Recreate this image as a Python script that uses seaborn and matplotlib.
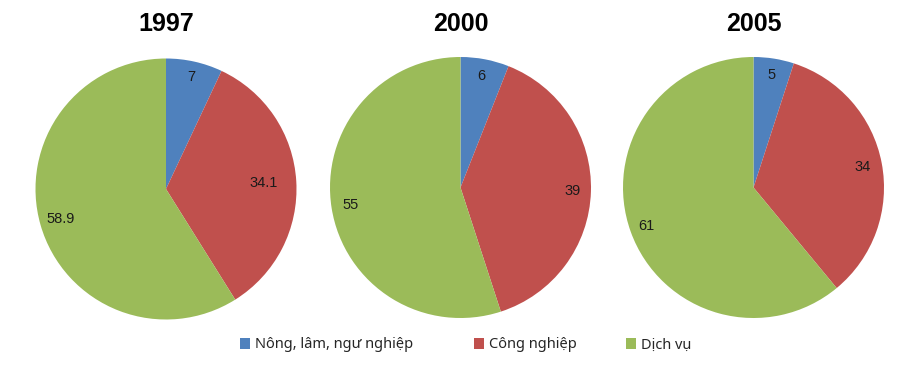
import matplotlib
matplotlib.use('Agg')
import matplotlib.pyplot as plt
from matplotlib.patches import Patch
import seaborn as sns

# Data
years = ['1997', '2000', '2005']
sectors = ['Nông, lâm, ngư nghiệp', 'Công nghiệp', 'Dịch vụ']
shares = {
    '1997': [7, 34.1, 58.9],
    '2000': [6, 39, 55],
    '2005': [5, 34, 61],
}
labels = {
    '1997': ['7', '34.1', '58.9'],
    '2000': ['6', '39', '55'],
    '2005': ['5', '34', '61'],
}

sns.set_theme(style='white')
plt.rcParams['font.family'] = ['Liberation Sans', 'DejaVu Sans']
colors = sns.color_palette(['#4F81BD', '#C0504D', '#9BBB59'])

W, H = 921, 381
fig = plt.figure(figsize=(W / 100, H / 100), dpi=100)

# pie centres in pixels, and how far out each label sits (fraction of radius)
centres = [(166, 189), (460.5, 187.5), (753.5, 187.5)]
label_dist = [[0.88, 0.75, 0.84], [0.87, 0.86, 0.85], [0.87, 0.85, 0.87]]
r = 130.5

for year, (cx, cy), dists in zip(years, centres, label_dist):
    ax = fig.add_axes([(cx - r) / W, (H - cy - r) / H, 2 * r / W, 2 * r / H])
    wedges, texts = ax.pie(shares[year], colors=colors, startangle=90,
                           counterclock=False, labels=labels[year],
                           labeldistance=1.0, radius=1,
                           wedgeprops={'linewidth': 0, 'edgecolor': 'none'},
                           textprops={'fontsize': 10.5, 'color': '#1a1a1a'})
    for t, d in zip(texts, dists):
        x, y = t.get_position()
        t.set_position((x * d, y * d))
        t.set_ha('center')
        t.set_va('center')
    ax.set_xlim(-1, 1)
    ax.set_ylim(-1, 1)
    ax.axis('off')
    fig.text(cx / W, 1 - 24 / H, year, ha='center', va='center',
             fontsize=18, fontweight='bold', color='black')

# legend entries placed one by one; Noto Sans covers all the Vietnamese marks
legend_x = [240, 474, 626]
for name, c, lx in zip(sectors, colors, legend_x):
    fig.legend([Patch(facecolor=c, edgecolor='none')], [name], loc='center left',
               bbox_to_anchor=(lx / W, 1 - 345 / H), frameon=False,
               prop={'family': 'Noto Sans', 'size': 10.5},
               handlelength=0.7, handleheight=0.7, handletextpad=0.3,
               borderpad=0, borderaxespad=0)

fig.savefig('out.png', dpi=100)
